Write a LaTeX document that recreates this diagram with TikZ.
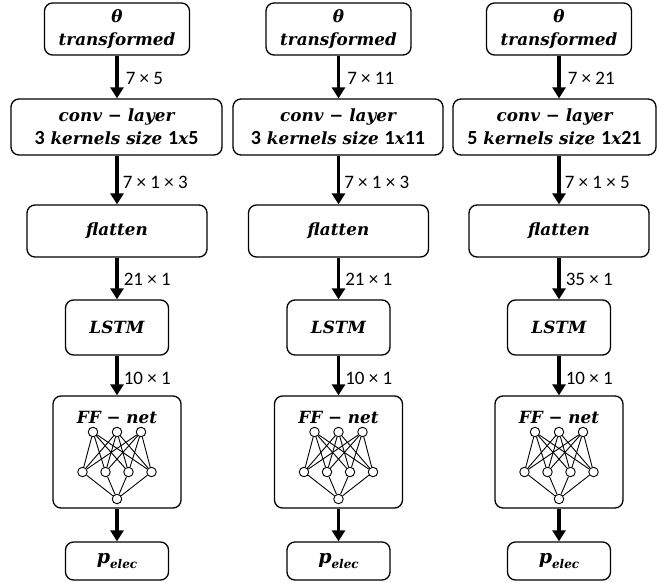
\documentclass[tikz,border=0pt]{standalone}
\usepackage{fontspec}
\setmainfont{DejaVu Serif}
\newfontfamily\numfont{Carlito}
\usetikzlibrary{arrows.meta}

\tikzset{
  blk/.style={draw, line width=1.3pt, rounded corners=8pt, inner sep=0pt,
              align=center, font=\fontsize{16.8}{23}\selectfont\bfseries\itshape},
  ttl/.style={inner sep=0pt, font=\fontsize{16.8}{23}\selectfont\bfseries\itshape},
  lab/.style={inner sep=0pt, anchor=west, font=\numfont\fontsize{19}{20}\selectfont},
  flow/.style={line width=3.6pt, -{Triangle[width=13pt,length=11pt]}},
  neu/.style={circle, draw, line width=0.9pt, fill=white, inner sep=0pt, minimum size=9.5pt},
  syn/.style={line width=0.9pt},
}
% upright bold sans digits inside the bold italic lines
\newcommand\dg[1]{{\numfont\bfseries\upshape\fontsize{20}{23}\selectfont #1}}
\newcommand\pelec{p\raisebox{-0.22em}{\fontsize{12}{12}\selectfont elec}}

% one processing column:
% #1 prefix, #2 centre x, #3 kernel line, #4-#6 tensor sizes,
% #7 conv box centre x, #8 conv box width
\newcommand\netcol[8]{%
  \node[blk, minimum width=145pt, minimum height=52pt] (#1th) at (#2,29)
       {θ\\transformed};
  \node[blk, minimum width=#8pt, minimum height=56pt] (#1cv) at (#7,127)
       {conv − layer\\#3};
  \node[blk, minimum width=180pt, minimum height=52pt] (#1fl) at (#2,231) {flatten};
  \node[blk, minimum width=103pt, minimum height=55pt] (#1ls) at (#2,327.5) {LSTM};
  \node[blk, minimum width=128pt, minimum height=112pt] (#1ff) at (#2,452) {};
  \node[ttl] (#1fft) at (#2,417) {FF − net};
  \node[blk, minimum width=103pt, minimum height=38pt] (#1p) at (#2,561)
       {\fontsize{19}{19}\selectfont\pelec};
  % small feed-forward net
  \foreach \i/\dx in {1/-24,2/0,3/24}
    \node[neu] (#1a\i) at ({#2+\dx},432) {};
  \foreach \j/\dx in {1/-34.5,2/-11.5,3/11.5,4/34.5}
    \node[neu] (#1b\j) at ({#2+\dx},472) {};
  \node[neu] (#1c) at (#2,499) {};
  \foreach \i in {1,2,3}
    \foreach \j in {1,...,4}
      \draw[syn] (#1a\i) -- (#1b\j);
  \foreach \j in {1,...,4}
    \draw[syn] (#1b\j) -- (#1c);
  % data flow
  \draw[flow] (#1th.south) -- (#1th.south |- #1cv.north)
     node[lab, midway, xshift=7pt, yshift=-1pt] (#1l1) {#4};
  \draw[flow] (#1th.south |- #1cv.south) -- (#1fl.north)
     node[lab, midway, xshift=4pt, yshift=-2pt] (#1l2) {#5};
  \draw[flow] (#1fl.south) -- (#1ls.north)
     node[lab, midway, xshift=5pt, yshift=-1pt] (#1l3) {#6};
  \draw[flow] (#1ls.south) -- (#1ff.north)
     node[lab, midway, xshift=5pt, yshift=-3pt] (#1l4) {10 × 1};
  \draw[flow] (#1ff.south) -- (#1p.north);
}

\begin{document}
\begin{tikzpicture}[x=1pt, y=-1pt]
  \useasboundingbox (0,0) rectangle (657,582);
  \netcol{A}{117}{\dg{3} kernels size \dg{1}x\dg{5}}{7 × 5}{7 × 1 × 3}{21 × 1}{116.5}{211}
  \netcol{B}{338.5}{\dg{3} kernels size \dg{1}x\dg{11}}{7 × 11}{7 × 1 × 3}{21 × 1}{338}{210}
  \netcol{C}{559}{\dg{5} kernels size \dg{1}x\dg{21}}{7 × 21}{7 × 1 × 5}{35 × 1}{554.5}{203}
\end{tikzpicture}
\end{document}
